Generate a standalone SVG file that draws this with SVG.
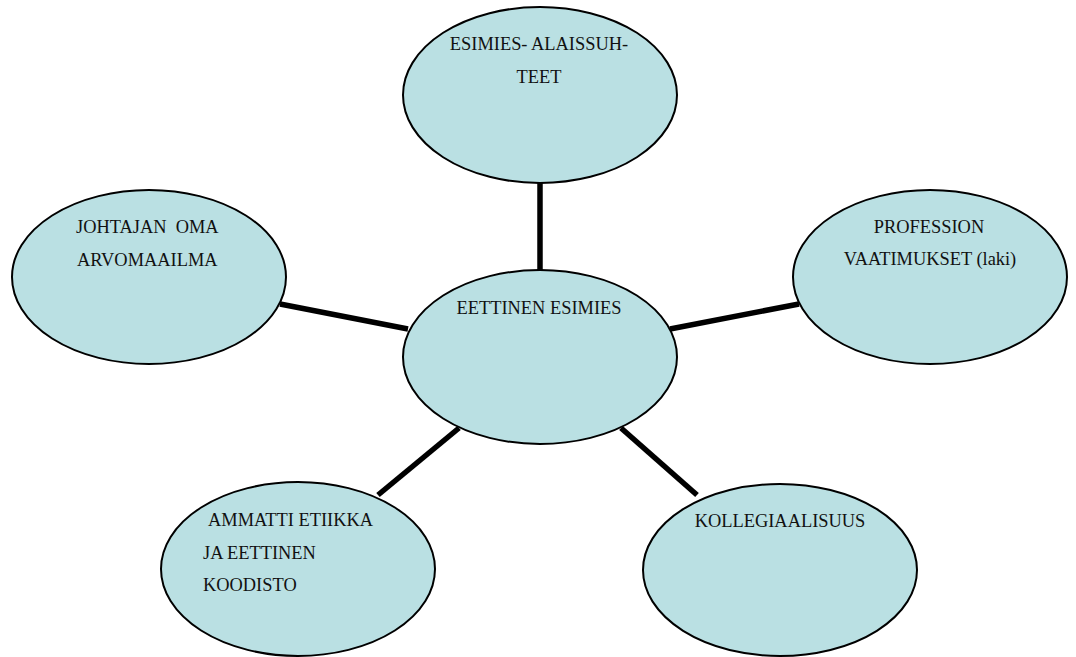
<svg xmlns="http://www.w3.org/2000/svg" width="1076" height="657" viewBox="0 0 1076 657">
<style>
.node ellipse{fill:#BAE0E3;stroke:#000;stroke-width:2}
.node text{font-family:"Liberation Serif","Times New Roman",serif;font-size:18.4px;fill:#111}
.c{text-anchor:middle}
#connectors line{stroke:#000;stroke-width:5.5}
</style>
<rect width="1076" height="657" fill="#fff"/>
<g id="connectors">
<line x1="540" y1="180" x2="540" y2="272"/>
<line x1="280" y1="304" x2="408" y2="329"/>
<line x1="670" y1="329" x2="799" y2="304"/>
<line x1="459" y1="428" x2="378" y2="495"/>
<line x1="621" y1="428" x2="697" y2="495"/>
</g>
<g id="node-top" class="node">
<ellipse cx="540" cy="95" rx="137" ry="88"/>
<text class="c" x="539" y="50">ESIMIES- ALAISSUH-</text>
<text class="c" x="539" y="83">TEET</text>
</g>
<g id="node-left" class="node">
<ellipse cx="149" cy="277" rx="137" ry="87"/>
<text x="76" y="233" xml:space="preserve">JOHTAJAN  OMA</text>
<text x="77" y="266">ARVOMAAILMA</text>
</g>
<g id="node-right" class="node">
<ellipse cx="930" cy="277" rx="137" ry="87"/>
<text class="c" x="929" y="233">PROFESSION</text>
<text class="c" x="930" y="265">VAATIMUKSET (laki)</text>
</g>
<g id="node-center" class="node">
<ellipse cx="540" cy="357" rx="137" ry="87"/>
<text class="c" x="539" y="314">EETTINEN ESIMIES</text>
</g>
<g id="node-bottom-left" class="node">
<ellipse cx="298" cy="569" rx="137" ry="87"/>
<text x="208" y="526">AMMATTI ETIIKKA</text>
<text x="203" y="559">JA EETTINEN</text>
<text x="203" y="591">KOODISTO</text>
</g>
<g id="node-bottom-right" class="node">
<ellipse cx="780" cy="570" rx="137" ry="86"/>
<text class="c" x="780" y="527">KOLLEGIAALISUUS</text>
</g>
</svg>
